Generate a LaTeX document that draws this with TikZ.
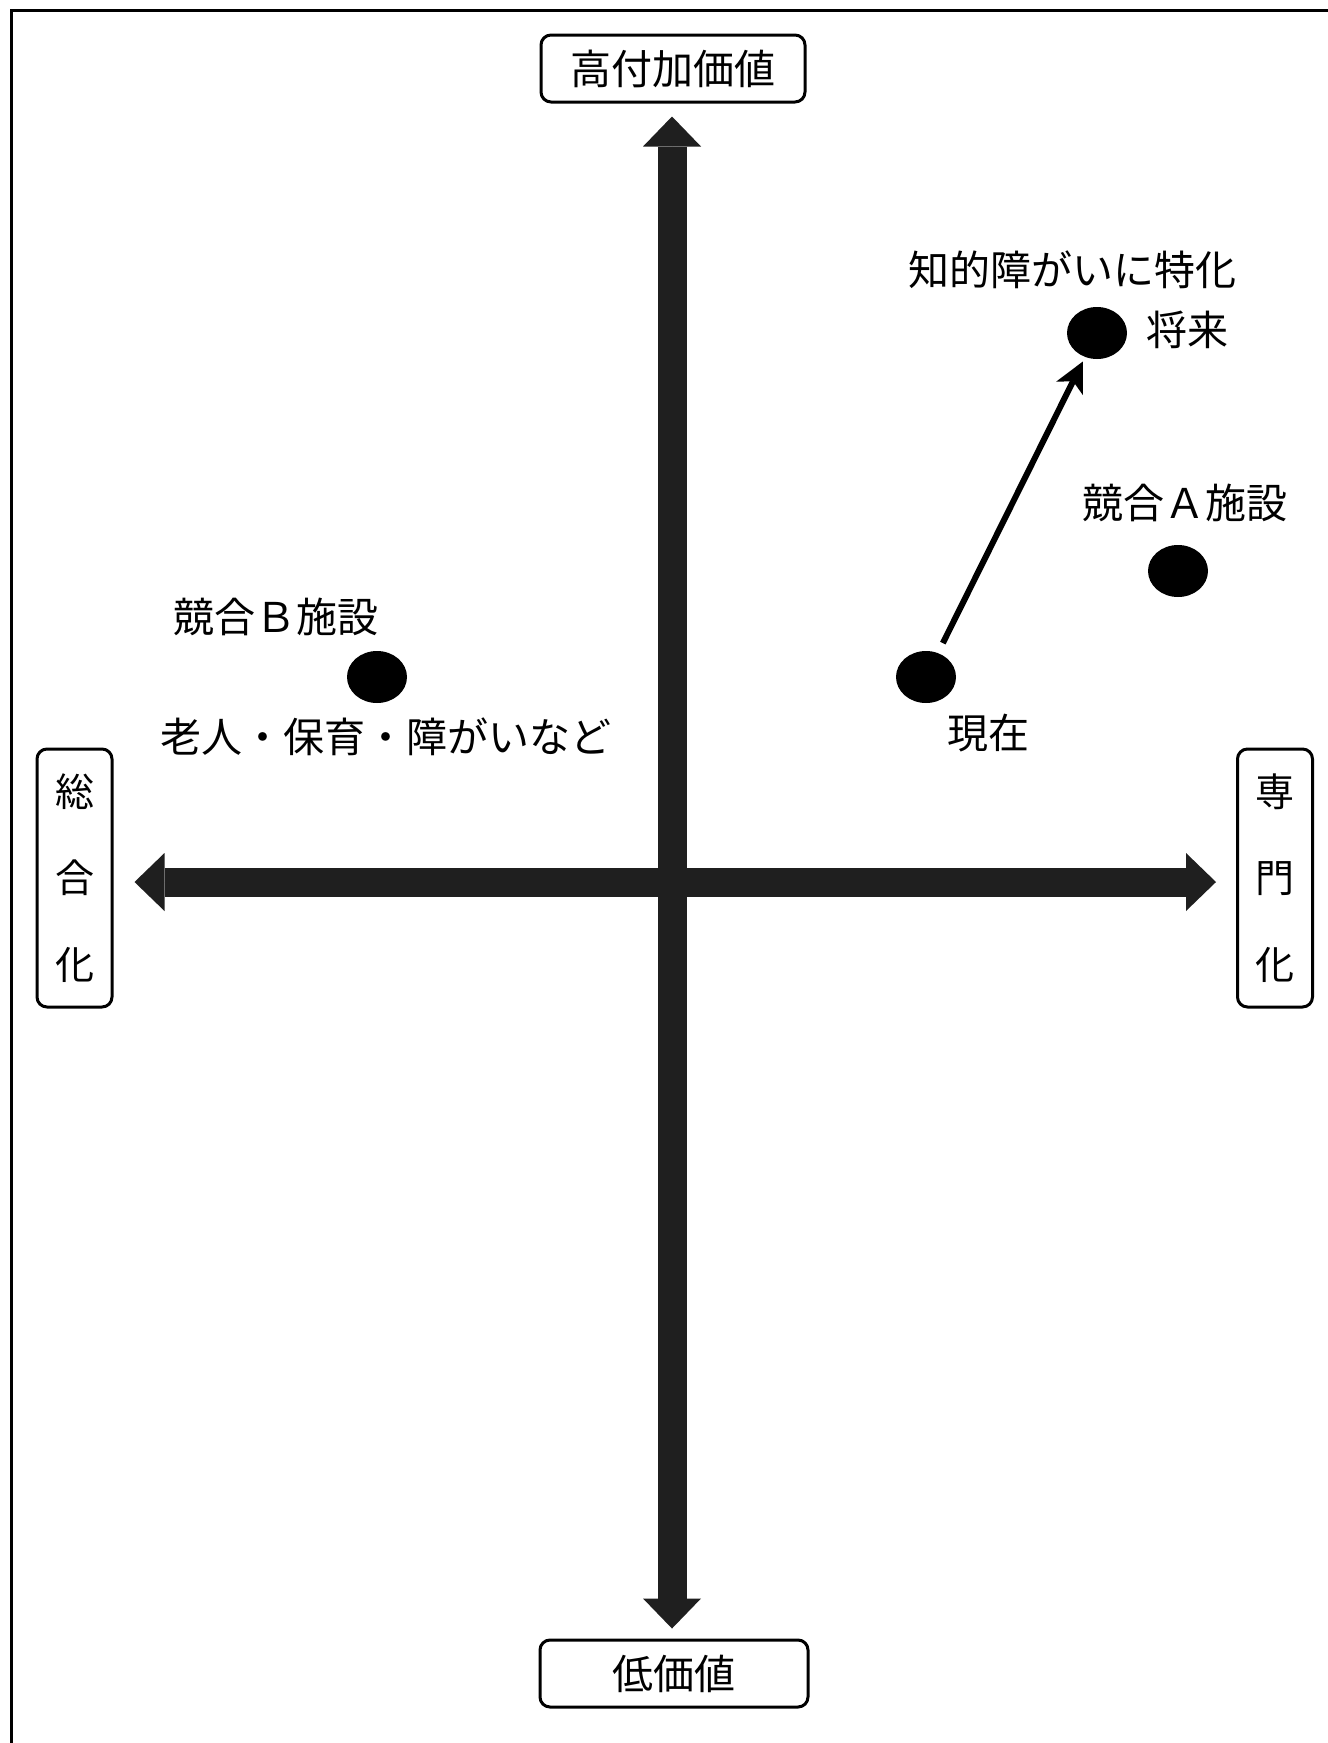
\documentclass[tikz,border=0pt]{standalone}
\usepackage{fontspec}
\newfontfamily\jp{Noto Sans CJK JP}
\usetikzlibrary{arrows.meta,shapes.geometric}
\begin{document}
\begin{tikzpicture}[x=1pt,y=-1pt,
  lbl/.style={font=\jp\fontsize{41}{48}\selectfont, inner sep=0pt},
  axbox/.style={draw, line width=3pt, rounded corners=10pt, fill=white, inner sep=0pt, font=\jp\fontsize{41}{48}\selectfont},
  vbox/.style={axbox, minimum width=75pt, minimum height=258pt, align=center, font=\jp\fontsize{39}{86.5}\selectfont},
  axis/.style={line width=29pt, draw=black!88, fill=black!88,
    {Triangle[width=58pt,length=30pt,line width=0pt]}-{Triangle[width=58pt,length=30pt,line width=0pt]}},
  dot/.style={ellipse, fill=black, minimum width=60pt, minimum height=52pt, inner sep=0pt},
  move/.style={line width=6pt, -{Stealth[width=30pt,length=30pt,inset=8pt,line width=0pt]}, shorten <=11pt, shorten >=5pt}
]
\useasboundingbox[fill=white] (0,0) rectangle (1328,1743);
% frame
\draw[line width=3pt] (11,1743) -- (11,10.5) -- (1328,10.5);

% axis boxes
\node[axbox, minimum width=264pt, minimum height=67pt] (high) at (673,68.5) {高付加価値};
\node[axbox, minimum width=268pt, minimum height=67pt] (low) at (674,1673.5) {低価値};
\node[vbox] (gen) at (74.5,878) {総\\合\\化};
\node[vbox] (spec) at (1275,878) {専\\門\\化};

% axes
\coordinate (cross) at (672,882);
\draw[axis, shorten <=13pt, shorten >=10pt] (high.south -| cross) -- (low.north -| cross);
\draw[axis, shorten <=21pt, shorten >=20pt] (gen.east |- cross) -- (spec.west |- cross);

% dots
\node[dot] (now) at (926,677) {};
\node[dot] (fut) at (1097,333) {};
\node[dot] (compA) at (1178,571) {};
\node[dot] (compB) at (377,677) {};
\draw[move] (now) -- (fut);

% labels
\node[lbl] (tfut) at (1187,330) {将来};
\node[lbl] (tspec) at (1072,270) {知的障がいに特化};
\node[lbl] (tA) at (1185,503) {競合Ａ施設};
\node[lbl] (tnow) at (988,733) {現在};
\node[lbl] (tB) at (276,617) {競合Ｂ施設};
\node[lbl] (tBdesc) at (386,737) {老人・保育・障がいなど};
\end{tikzpicture}
\end{document}
